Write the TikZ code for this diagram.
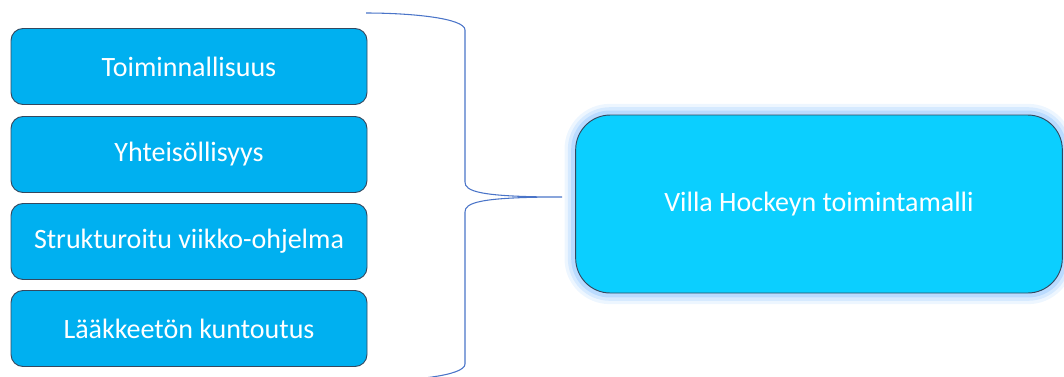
\documentclass[tikz,border=0pt]{standalone}
\usepackage{fontspec}
\setmainfont{Carlito}
\usetikzlibrary{backgrounds}
\definecolor{itemblue}{HTML}{00B0F0}
\definecolor{modelblue}{HTML}{0BCFFF}
\definecolor{edgegray}{HTML}{34485F}
\definecolor{bracecol}{HTML}{4A74C8}
\definecolor{glowcol}{HTML}{86C0FF}

\begin{document}
\begin{tikzpicture}[x=0.75pt,y=-0.75pt,
    item/.style={draw=edgegray,line width=0.7pt,fill=itemblue,rounded corners=9pt,
      minimum width=267pt,minimum height=57pt,inner sep=0pt,
      text=white,font=\fontsize{21}{25}\selectfont},
    model/.style={item,fill=modelblue,rounded corners=26pt,
      minimum width=365pt,minimum height=133.5pt},
    glow/.style={draw=glowcol,rounded corners=26pt}]
    \useasboundingbox (0,0) rectangle (1064,376);
    \node[item] (func) at (189,66.5) {Toiminnallisuus};
    \node[item] (comm) at (189,154.5) {Yhteisöllisyys};
    \node[item] (week) at (189,241.5) {Strukturoitu viikko-ohjelma};
    \node[item] (rehab) at (189,328.5) {Lääkkeetön kuntoutus};
    \node[model] (model) at (819,204) {Villa Hockeyn toimintamalli};
    \begin{scope}[on background layer]
      \foreach \w/\o in {16/0.15,11/0.22,6/0.35}
        \draw[glow,line width=\w pt,opacity=\o]
          (model.north west) rectangle (model.south east);
    \end{scope}
    \coordinate (tip) at (562,197);
    \draw[bracecol,line width=0.8pt] (366,13)
      .. controls (410,13) and (465,18) .. (465,30) -- (465,182)
      .. controls (465,191) and (478,197) .. (tip)
      .. controls (478,197) and (465,203) .. (465,212) -- (465,364)
      .. controls (465,376) and (410,381) .. (366,381);
  \end{tikzpicture}
\end{document}
